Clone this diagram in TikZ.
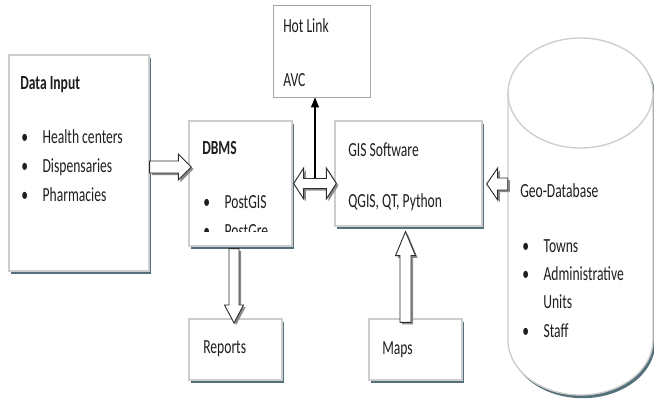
\documentclass[tikz,border=0pt]{standalone}
\usepackage{fontspec}
\newfontfamily\cf[FakeStretch=0.68]{Carlito}
\usetikzlibrary{fit,shadows,arrows.meta,calc}
\definecolor{shadowc}{RGB}{84,112,122}
\definecolor{boxline}{RGB}{205,205,205}
\definecolor{textc}{RGB}{30,30,30}
\definecolor{ashadow}{RGB}{140,140,140}
\definecolor{aline}{RGB}{45,45,45}
\newcommand\bul[1]{\makebox[16pt][l]{•}#1}
% generic block arrow: #1 command, #2 tail, #3 tip, #4 rotation, #5 shaft half, #6 head half, #7 head length
\newcommand\blkdo[7]{#1 ([shift={(#2)},rotate=#4]0,#5) -- ([shift={(#3)},rotate=#4]-#7,#5) -- ([shift={(#3)},rotate=#4]-#7,#6) -- (#3) -- ([shift={(#3)},rotate=#4]-#7,-#6) -- ([shift={(#3)},rotate=#4]-#7,-#5) -- ([shift={(#2)},rotate=#4]0,-#5) -- cycle;}
\newcommand\blkarrow[6]{\blkdo{\fill[blks]}{#1}{#2}{#3}{#4}{#5}{#6}\blkdo{\draw[blk]}{#1}{#2}{#3}{#4}{#5}{#6}}
\newcommand\cylpath{(508,93) -- (508,340) arc[start angle=180, end angle=360, x radius=54.375pt, y radius=41.25pt] -- (653,93) arc[start angle=0, end angle=180, x radius=54.375pt, y radius=41.25pt] -- cycle}
\begin{document}
\begin{tikzpicture}[x=0.75pt,y=-0.75pt,
  box/.style={draw=boxline, fill=white, line width=1pt, inner sep=0pt,
    drop shadow={fill=shadowc, opacity=1, shadow xshift=1.5pt, shadow yshift=-2.2pt}},
  plainbox/.style={draw=boxline!80!black, fill=white, line width=0.6pt, inner sep=0pt},
  txt/.style={anchor=base west, inner sep=0pt, text=textc, font=\cf\fontsize{15}{18}\selectfont},
  bold/.style={txt, font=\cf\bfseries\fontsize{15}{18}\selectfont},
  blk/.style={fill=white, draw=aline, line width=0.7pt, line join=miter},
  blks/.style={fill=ashadow, transform canvas={xshift=1.6pt, yshift=-1.6pt}},
  thin/.style={draw=black, line width=0.8pt, -{Triangle[length=7.5pt, width=6pt]}}]
\useasboundingbox[fill=white] (0,0) rectangle (654,420);

% boxes
\node[box, fit={(9,55)(149,271)}] (datain) {};
\node[box, fit={(189,121)(292,246)}] (dbms) {};
\node[box, fit={(335,121)(482,226)}] (gis) {};
\node[plainbox, fit={(273,5)(370,97)}] (hot) {};
\node[box, fit={(189,319)(282,380)}] (reports) {};
\node[box, fit={(369,319)(462,380)}] (maps) {};

% cylinder
\fill[shadowc, transform canvas={xshift=1.6pt, yshift=-2.4pt}] \cylpath;
\draw[draw=boxline, fill=white, line width=1pt] \cylpath;
\draw[draw=boxline, line width=1pt] (508,93) arc[start angle=180, end angle=360, x radius=54.375pt, y radius=41.25pt];
\node[fit={(508,38)(653,395)}, inner sep=0pt] (geo) {};

% texts
\node[bold] (t1) at (20,90) {Data Input};
\node[txt] (t2) at (21,144) {\bul{Health centers}};
\node[txt] (t3) at (21,173) {\bul{Dispensaries}};
\node[txt] (t4) at (21,202) {\bul{Pharmacies}};
\node[bold] (t5) at (202,155) {DBMS};
\node[txt] (t6) at (203,209) {\bul{PostGIS}};
\begin{scope}
\clip (189,121) rectangle (292,232);
\node[txt] (t7) at (203,238) {\bul{PostGre}};
\end{scope}
\node[txt] (t8) at (348,157) {GIS Software};
\node[txt] (t9) at (348,208) {QGIS, QT, Python};
\node[txt] (t10) at (283,33) {Hot Link};
\node[txt] (t11) at (283,87) {AVC};
\node[txt] (t12) at (203,354) {Reports};
\node[txt] (t13) at (382,355) {Maps};
\node[txt] (t14) at (520,198) {Geo-Database};
\node[txt] (t15) at (522,253) {\bul{Towns}};
\node[txt] (t16) at (522,281) {\bul{Administrative}};
\node[txt] (t17) at (543,309) {Units};
\node[txt] (t18) at (522,338) {\bul{Staff}};

% connector coordinates
\coordinate (a1s) at (datain.east |- 0,167);
\coordinate (a1e) at ($(dbms.west |- 0,167)+(3,0)$);
\coordinate (dl) at ($(dbms.east |- 0,183.5)+(1,0)$);
\coordinate (dr) at ($(gis.west |- 0,183.5)+(2,0)$);
\coordinate (dm) at ($(dl)!0.5!(dr)$);
\coordinate (g1s) at (geo.west |- 0,184);
\coordinate (g1e) at ($(gis.east |- 0,184)+(4,0)$);
\coordinate (r1s) at ($(dbms.south -| 234,0)+(0,2)$);
\coordinate (r1e) at (234,323);
\coordinate (m1s) at ($(maps.north -| 405.5,0)+(0,4)$);
\coordinate (m1e) at ($(gis.south -| 405.5,0)+(0,5)$);

% block arrows
\blkarrow{a1s}{a1e}{0}{6}{13}{13}
\blkarrow{g1s}{g1e}{180}{6}{16}{11}
\blkarrow{r1s}{r1e}{-90}{5}{9.5}{18}
\blkarrow{m1s}{m1e}{90}{5.5}{10}{24}
% double arrow DBMS <-> GIS
\fill[blks] (dl) -- ([shift={(dl)}]10,-15.5) -- ([shift={(dl)}]10,-5) -- ([shift={(dr)}]-10,-5) -- ([shift={(dr)}]-10,-15.5) -- (dr) -- ([shift={(dr)}]-10,15.5) -- ([shift={(dr)}]-10,5) -- ([shift={(dl)}]10,5) -- ([shift={(dl)}]10,15.5) -- cycle;
\draw[blk] (dl) -- ([shift={(dl)}]10,-15.5) -- ([shift={(dl)}]10,-5) -- ([shift={(dr)}]-10,-5) -- ([shift={(dr)}]-10,-15.5) -- (dr) -- ([shift={(dr)}]-10,15.5) -- ([shift={(dr)}]-10,5) -- ([shift={(dl)}]10,5) -- ([shift={(dl)}]10,15.5) -- cycle;
% thin arrow to Hot Link
\draw[thin] ($(dm)+(0,-5)$) -- (dm |- hot.south);
\end{tikzpicture}
\end{document}
